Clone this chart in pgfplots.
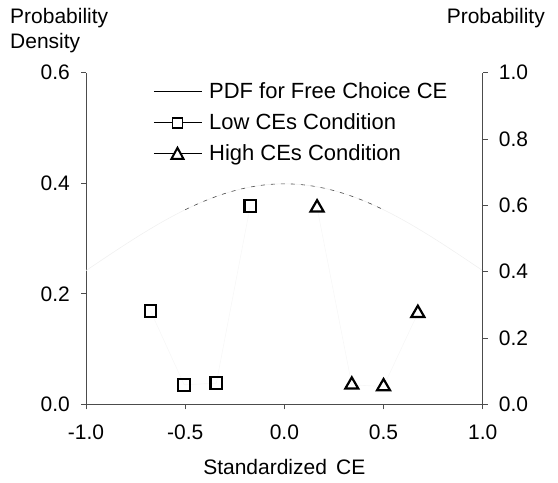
\documentclass[border=0pt]{standalone}
\usepackage{fontspec}
\setmainfont{Liberation Sans}
\usepackage{pgfplots}
\pgfplotsset{compat=1.18}
\begin{document}
\fontsize{21}{25}\selectfont
\begin{tikzpicture}
\pgfplotsset{
  common/.style={
    scale only axis, width=397pt, height=332pt,
    xmin=-1, xmax=1,
    tick align=outside, major tick length=5pt,
    tick style={color=black!70, line width=0.8pt},
    axis line style={color=black!70, line width=0.8pt},
    ticklabel style={font=\fontsize{21}{25}\selectfont},
    /pgf/number format/assume math mode=true,
    clip=false,
  }
}
\begin{axis}[common,
  axis x line*=bottom, axis y line*=left,
  ymin=0, ymax=0.6,
  ytick={0,0.2,0.4,0.6},
  yticklabels={0.0,0.2,0.4,0.6},
  yticklabel style={xshift=-4pt},
  xtick={-1,-0.5,0,0.5,1},
  xticklabels={-1.0,-0.5,0.0,0.5,1.0},
  xticklabel style={yshift=-8pt},
  xlabel={Standardized\, CE},
  xlabel style={font=\fontsize{21}{25}\selectfont, yshift=-6pt},
]
\addplot[black!6, line width=0.6pt, smooth] coordinates {
(-1.0,0.24197) (-0.95,0.25406) (-0.9,0.26609) (-0.85,0.27798) (-0.8,0.28969)
(-0.75,0.30114) (-0.7,0.31225) (-0.65,0.32297) (-0.6,0.33322) (-0.55,0.34294)
(-0.5,0.35207) (-0.45,0.36053) (-0.4,0.36827) (-0.35,0.37524) (-0.3,0.38139)
(-0.25,0.38667) (-0.2,0.39104) (-0.15,0.39448) (-0.1,0.39695) (-0.05,0.39844)
(0,0.39894) (0.05,0.39844) (0.1,0.39695) (0.15,0.39448) (0.2,0.39104)
(0.25,0.38667) (0.3,0.38139) (0.35,0.37524) (0.4,0.36827) (0.45,0.36053)
(0.5,0.35207) (0.55,0.34294) (0.6,0.33322) (0.65,0.32297) (0.7,0.31225)
(0.75,0.30114) (0.8,0.28969) (0.85,0.27798) (0.9,0.26609) (0.95,0.25406)
(1.0,0.24197)};
\addplot[black!70, line width=0.6pt, smooth, dash pattern=on 4pt off 6pt] coordinates {
(-0.5,0.35207) (-0.45,0.36053) (-0.4,0.36827) (-0.35,0.37524) (-0.3,0.38139)
(-0.25,0.38667) (-0.2,0.39104) (-0.15,0.39448) (-0.1,0.39695) (-0.05,0.39844)
(0,0.39894) (0.05,0.39844) (0.1,0.39695) (0.15,0.39448) (0.2,0.39104)
(0.25,0.38667) (0.3,0.38139) (0.35,0.37524) (0.4,0.36827) (0.45,0.36053)
(0.5,0.35207)};
\path (rel axis cs:-0.2168,-0.2238) rectangle (rel axis cs:1.1898,1.219);
\node[anchor=north west, align=left, inner sep=0pt, font=\fontsize{21}{25}\selectfont]
  at (rel axis cs:-0.1916,1.195) {Probability\\Density};
\node[anchor=north east, inner sep=0pt, font=\fontsize{21}{25}\selectfont]
  at (rel axis cs:1.157,1.195) {Probability};
\end{axis}
\begin{axis}[common,
  axis x line=none, axis y line*=right,
  ymin=0, ymax=1,
  ytick={0,0.2,0.4,0.6,0.8,1},
  yticklabels={0.0,0.2,0.4,0.6,0.8,1.0},
  yticklabel style={xshift=4pt},
  legend style={draw=none, fill=none, at={(rel axis cs:0.17,0.975)}, anchor=north west,
    font=\fontsize{22}{26}\selectfont, row sep=10pt, inner sep=0pt,
    nodes={inner sep=1pt}},
  legend cell align=left,
]
\addplot[black!3, line width=0.6pt, mark=square, mark size=5.8pt,
  mark options={draw=black, line width=2.2pt, fill=none, solid}, forget plot] coordinates {
(-0.675,0.282) (-0.505,0.059) (-0.343,0.064) (-0.172,0.598)};
\addplot[black!3, line width=0.6pt, mark=triangle, mark size=7.5pt,
  mark options={draw=black, line width=2.2pt, fill=none, solid}, forget plot] coordinates {
(0.165,0.593) (0.34,0.059) (0.5,0.054) (0.673,0.275)};
\addlegendimage{legend image code/.code={\draw[black, line width=0.7pt] (0pt,0pt) -- (48pt,0pt);\path (54pt,0pt);}}
\addlegendentry{PDF for Free Choice CE}
\addlegendimage{legend image code/.code={\draw[black, line width=0.7pt] (0pt,0pt) -- (48pt,0pt);
  \draw[black, line width=1.8pt, fill=white] (18.5pt,-5pt) rectangle (28.5pt,5pt);\path (54pt,0pt);}}
\addlegendentry{Low CEs Condition}
\addlegendimage{legend image code/.code={\draw[black, line width=0.7pt] (0pt,0pt) -- (48pt,0pt);
  \draw[black, line width=2pt, fill=white] (23.5pt,6pt) -- (17.5pt,-5pt) -- (29.5pt,-5pt) -- cycle;\path (54pt,0pt);}}
\addlegendentry{High CEs Condition}
\end{axis}
\end{tikzpicture}
\end{document}
